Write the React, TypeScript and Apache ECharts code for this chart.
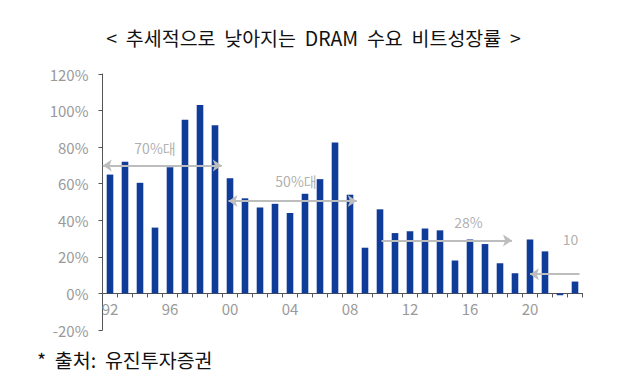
import React, { useEffect, useRef } from "react";
import * as echarts from "echarts";

const years = [
  "1992", "1993", "1994", "1995", "1996", "1997", "1998", "1999",
  "2000", "2001", "2002", "2003", "2004", "2005", "2006", "2007",
  "2008", "2009", "2010", "2011", "2012", "2013", "2014", "2015",
  "2016", "2017", "2018", "2019", "2020", "2021", "2022", "2023",
];
const bitGrowth = [
  65, 72, 60.5, 36, 69, 95, 103, 92,
  63, 52, 47, 49, 44, 54.5, 62.5, 82.5,
  54, 25, 46, 33, 34, 35.5, 34.5, 18,
  29.5, 27, 16.5, 11, 29.5, 23, -1, 6.5,
];
const yTicks = { min: -20, max: 120, interval: 20 };

// annotation arrows (positions in year units / percent levels)
const rangeLabels = ["70%대", "50%대", "28%", "10"];
const rangeLevels = [70, 50.5, 29, 10.5];
const rangeFrom = [1991.52, 1999.9, 2010.1, 2023.3];
const rangeTo = [1999.45, 2008.45, 2018.8, 2020.0];
const rangeHeadFrom = [true, true, false, false];
const rangeHeadTo = [true, true, true, true];
const labelX = [1995, 2004.4, 2015.9, 2022.7];
const labelY = [79.5, 61.5, 39, 29.5];

const title = "<  추세적으로  낮아지는  DRAM  수요  비트성장률  >";
const source = "*  출처:  유진투자증권";

export default function App() {
  const ref = useRef<HTMLDivElement>(null);
  useEffect(() => {
    if (!ref.current) return;
    const chart = echarts.init(ref.current, null, { renderer: "svg" });
    const axisColor = "#555";
    const textColor = "#9a9a9a";
    const font = "'Noto Sans CJK KR', 'Noto Sans', sans-serif";
    const arrowColor = "#bdbdbd";
    const gridBox = { left: 102.5, right: 44.5, top: 74, bottom: 55 };
    const gridHeight = 385 - gridBox.top - gridBox.bottom;
    const zeroOffset = -gridHeight * (0 - yTicks.min) / (yTicks.max - yTicks.min);
    chart.setOption({
      animation: false,
      title: {
        text: title,
        left: "center",
        top: 23,
        textStyle: { fontSize: 19.5, fontWeight: "normal", color: "#111", fontFamily: font },
      },
      graphic: [
        {
          type: "text",
          left: 37,
          top: 350,
          style: { text: source, fontSize: 19.5, fill: "#111", fontFamily: font },
        },
      ],
      grid: [gridBox, gridBox],
      xAxis: [
        {
          type: "category",
          gridIndex: 0,
          data: years,
          boundaryGap: true,
          position: "bottom",
          offset: zeroOffset,
          axisLine: { show: true, onZero: false, lineStyle: { color: axisColor, width: 1 } },
          axisTick: { show: true, interval: 0, length: 4, lineStyle: { color: axisColor } },
          axisLabel: {
            interval: 3,
            formatter: (v: string) => v.slice(2),
            color: textColor,
            fontSize: 15,
            margin: 8,
            fontFamily: font,
          },
          splitLine: { show: false },
        },
        {
          type: "value",
          gridIndex: 1,
          min: 1991.5,
          max: 2023.5,
          show: false,
        },
      ],
      yAxis: [
        {
          type: "value",
          gridIndex: 0,
          min: yTicks.min,
          max: yTicks.max,
          interval: yTicks.interval,
          axisLine: { show: true, lineStyle: { color: axisColor, width: 1 } },
          axisTick: { show: true, length: 4, lineStyle: { color: axisColor } },
          splitLine: { show: false },
          axisLabel: {
            formatter: "{value}%",
            color: textColor,
            fontSize: 15,
            margin: 14,
            fontFamily: font,
          },
        },
        {
          type: "value",
          gridIndex: 1,
          min: yTicks.min,
          max: yTicks.max,
          interval: yTicks.interval,
          show: false,
        },
      ],
      series: [
        {
          type: "bar",
          xAxisIndex: 0,
          yAxisIndex: 0,
          data: bitGrowth,
          barWidth: "44%",
          itemStyle: { color: "#0f3b99" },
          z: 2,
        },
        {
          type: "scatter",
          xAxisIndex: 1,
          yAxisIndex: 1,
          symbolSize: 0,
          z: 5,
          data: rangeLabels.map((t, i) => ({ name: t, value: [labelX[i], labelY[i]] })),
          label: {
            show: true,
            position: "inside",
            formatter: (p: any) => p.name,
            color: textColor,
            fontSize: 14,
            fontFamily: font,
          },
          markLine: {
            silent: true,
            z: 4,
            symbolSize: [9, 9],
            label: { show: false },
            lineStyle: { color: arrowColor, width: 2, type: "solid" },
            emphasis: { disabled: true },
            data: rangeLabels.map((_, i) => [
              {
                coord: [rangeFrom[i], rangeLevels[i]],
                symbol: rangeHeadFrom[i] ? "arrow" : "none",
              },
              {
                coord: [rangeTo[i], rangeLevels[i]],
                symbol: rangeHeadTo[i] ? "arrow" : "none",
              },
            ]),
          },
        },
      ],
    });
    return () => chart.dispose();
  }, []);
  return (
    <div
      ref={ref}
      style={{ position: "absolute", left: 0, top: 0, width: 627, height: 385, background: "#fff" }}
    />
  );
}
